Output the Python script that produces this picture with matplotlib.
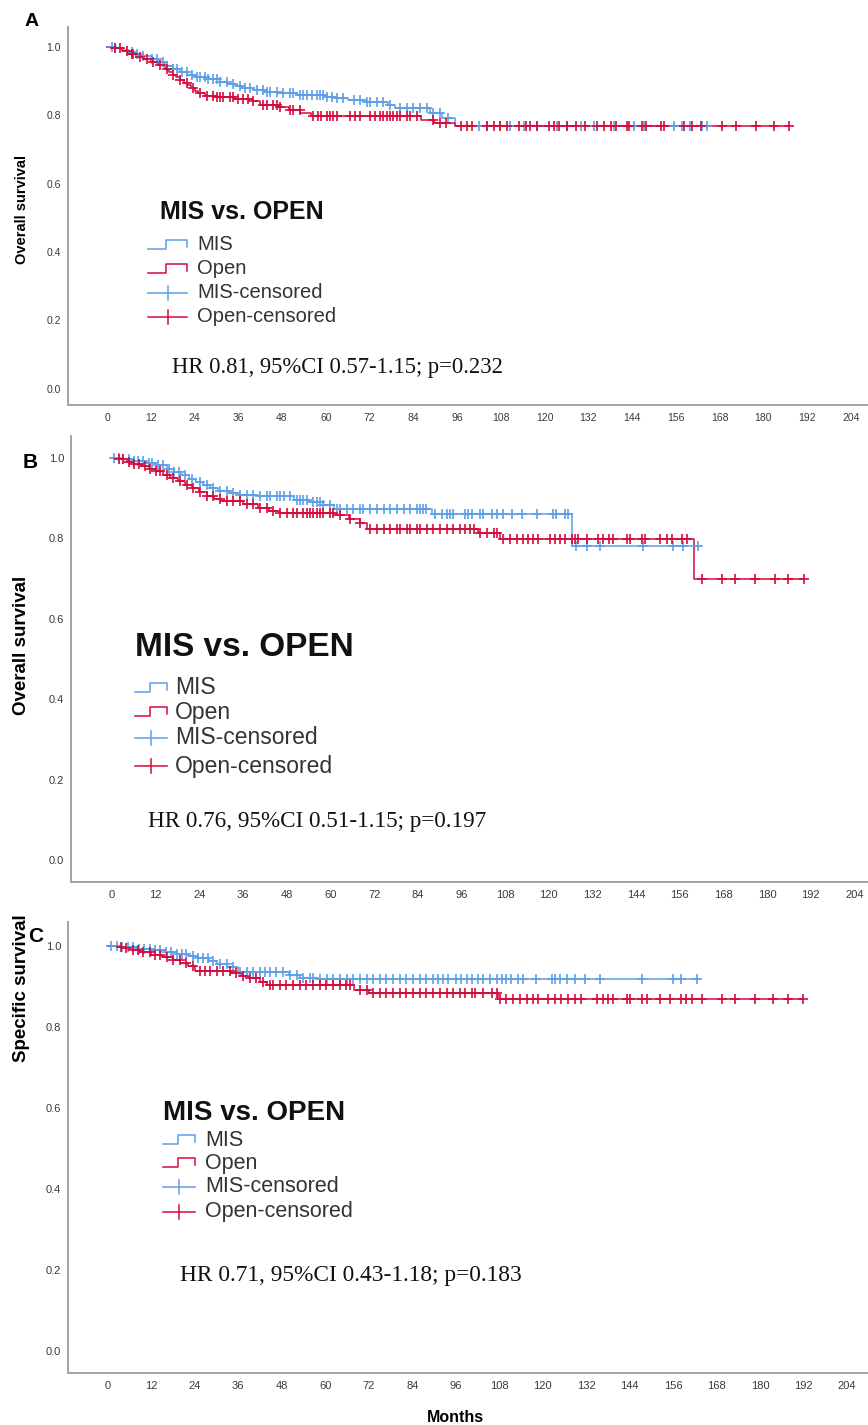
import numpy as np
import matplotlib
matplotlib.use("Agg")
import matplotlib.pyplot as plt
from matplotlib.lines import Line2D

W, H = 868, 1425

# ---------------- DATA ----------------
MONTH_TICKS = list(range(0, 205, 12))
SURV_TICKS = [0.0, 0.2, 0.4, 0.6, 0.8, 1.0]
GROUPS = ["MIS", "Open"]
LEGEND_TITLE = "MIS vs. OPEN"
LEGEND_LABELS = ["MIS", "Open", "MIS-censored", "Open-censored"]

# Panel A - overall survival
A_MIS_T = [0, 2, 4, 6, 8, 10, 12, 14, 16, 18, 20, 22, 24, 27, 31, 33, 35, 37, 40, 43, 47, 52, 60, 63, 66, 71, 77, 79, 88.7, 92, 95.5]
A_MIS_S = [1.0, 0.995, 0.99, 0.985, 0.978, 0.972, 0.965, 0.956, 0.945, 0.935, 0.927, 0.918, 0.91, 0.905, 0.898, 0.892, 0.885, 0.879, 0.874, 0.869, 0.864, 0.859, 0.854, 0.849, 0.844, 0.839, 0.829, 0.82, 0.805, 0.791, 0.768]
A_MIS_C = [1.3, 2.2, 6.8, 8.1, 10, 12.3, 13.6, 15.4, 16.4, 18.2, 19.1, 20.5, 21.9, 23.2, 24.6, 25.5, 26.9, 27.8, 29.2, 30.1, 31, 32.8,
           34.6, 36.5, 37.8, 39.2, 41.1, 42.9, 43.8, 44.7, 46.5, 48.4, 50.2, 51.1, 52.9, 53.8, 54.8, 56.1, 57.5, 58.4, 59.3, 60.3,
           61.6, 63, 64.8, 67.6, 69.4, 71.2, 72.1, 74, 75.8, 77.6, 80.4, 82.2, 84, 85.8, 87.7, 89.5, 91.3, 93.6,
           102, 104.2, 107.9, 110.6, 114.3, 118, 123.5, 126.2, 129.9, 133.5, 139, 144.5, 147.2, 155.5, 157.8, 160, 163.3, 164.6]
A_OPEN_T = [0, 2, 4, 6, 8, 10, 12, 14, 16, 17, 18, 19, 20, 21, 22, 23, 24, 25, 27, 30, 35, 40, 42, 47, 50, 53, 56, 86, 89.6, 95.5]
A_OPEN_S = [1.0, 0.995, 0.988, 0.978, 0.97, 0.963, 0.956, 0.946, 0.934, 0.926, 0.917, 0.91, 0.903, 0.895, 0.888, 0.879, 0.871, 0.864, 0.857, 0.852, 0.846, 0.841, 0.829, 0.823, 0.815, 0.805, 0.796, 0.786, 0.777, 0.768]
A_OPEN_C = [2.2, 3.6, 5.4, 6.8, 7.2, 9.1, 10.9, 12.7, 14.5, 16.4, 18.2, 20, 21.9, 23.7, 25.5, 27.3, 29.2, 30.1, 31, 31.9, 33.7,
            34.6, 36, 37.4, 38.8, 40.1, 42.9, 43.8, 45.6, 46.5, 47.4, 50.2, 51.1, 52.9, 56.6, 57.9, 58.8, 60.3, 61.2, 62.1, 63,
            66.6, 68, 69.4, 72.1, 73.5, 74.9, 75.8, 76.7, 77.6, 78.5, 79.4, 80.4, 82.2, 83.1, 84.9, 89.5, 91.3, 93.1,
            97, 98.8, 100.1, 104.2, 106.1, 107.9, 109.7, 112.9, 114.8, 116.1, 118, 121.2, 122.5, 123.9, 126.2, 128.5, 131.2,
            134.4, 136.3, 138.1, 139.5, 142.7, 143.1, 146.8, 147.7, 151.8, 152.7, 158.2, 160.5, 162.8, 168.7, 172.4, 177.9,
            182.9, 187]
A_HR = "HR 0.81, 95%CI 0.57-1.15; p=0.232"

# Panel B - overall survival
B_MIS_T = [0, 3, 6, 9, 12, 15, 17, 19, 21, 23, 25, 27, 29, 32, 35, 40, 50, 54, 58, 61, 87.8, 126.4]
B_MIS_S = [1.0, 0.997, 0.993, 0.988, 0.982, 0.973, 0.965, 0.957, 0.948, 0.94, 0.933, 0.925, 0.917, 0.912, 0.908, 0.904, 0.896, 0.89, 0.882, 0.873, 0.861, 0.781]
B_MIS_C = [0.5, 2, 3, 4.5, 6, 7, 8.5, 10, 11, 12.5, 14, 15.5, 17, 18.5, 20, 22,
           24.2, 26, 27.8, 29.7, 31.5, 33.3, 35.2, 37, 38.8, 40.7, 42.5, 43.4, 45.2, 46.2, 47.1, 48.9, 50.7, 51.6, 52.5,
           53.5, 55.3, 56.2, 57.1, 58, 59.9, 61.7, 62.6, 64.5, 66.3, 68.1, 69, 70.9, 72.7, 74.6, 76.4, 78.2, 80.1, 81.9,
           83.7, 84.6, 85.5, 86.2, 88.7, 90.6, 91.9, 92.8, 93.8, 97, 97.9, 98.8, 101.1, 102, 104.3, 105.7, 107.5, 109.8,
           112.5, 116.7, 121.2, 122.1, 124.4, 125.4, 127.6, 130.4, 134.1, 146, 154.2, 157, 161.1]
B_OPEN_T = [0, 2, 4, 6, 8, 10, 12, 14, 16, 18, 20, 22, 24, 26, 28, 30, 36, 40, 43, 46, 61, 65, 68, 70, 100.4, 106.5, 160]
B_OPEN_S = [1.0, 0.996, 0.99, 0.985, 0.979, 0.973, 0.966, 0.958, 0.95, 0.942, 0.933, 0.924, 0.915, 0.905, 0.898, 0.892, 0.884, 0.876, 0.868, 0.862, 0.857, 0.849, 0.838, 0.823, 0.812, 0.797, 0.698]
B_OPEN_C = [2, 3, 4.5, 6, 7.5, 9, 10.5, 12, 13.2, 15, 16.8, 18.7, 20.5, 22.3, 24.2, 26, 27.8, 29.7, 31.5, 33.3, 35.2, 37,
            38.8, 40.7, 42.5, 44.3, 46.2, 48, 49.8, 50.7, 52.5, 53.5, 54.4, 55.3, 56.2, 57.1, 58, 59.9, 60.8, 62.6, 65.4,
            68.1, 70.9, 72.7, 74.6, 76.4, 78.2, 79.1, 80.9, 81.9, 83.7, 84.6, 86.4, 88.3, 90.1, 92, 93.8, 95.6, 97, 98.3,
            99.3, 101.1, 102.9, 104.8, 105.7, 107.5, 109.3, 111.2, 113, 114.4, 115.7, 117.1, 120.3, 121.7, 123.1, 124.4,
            126.3, 127.2, 128.1, 130.4, 133.6, 135, 136.4, 137.7, 141.4, 142.3, 145.5, 146.4, 150.5, 152.4, 153.8, 156.5,
            157.9, 162, 167.5, 171.2, 176.7, 182.1, 185.8, 190]
B_HR = "HR 0.76, 95%CI 0.51-1.15; p=0.197"

# Panel C - specific survival
C_MIS_T = [0, 4, 8, 12, 16, 19, 22, 25, 28, 30, 33, 36, 50, 53, 58]
C_MIS_S = [1.0, 0.997, 0.993, 0.989, 0.985, 0.981, 0.976, 0.969, 0.962, 0.955, 0.948, 0.935, 0.928, 0.922, 0.918]
C_MIS_C = [1, 2.5, 4, 5.5, 7, 8.5, 10, 11.5, 13, 14.5, 16, 17.5, 19, 20.5, 21.7, 23.6, 25, 26.3, 27.7, 29.1, 30.9, 32.8,
           34.6, 36.4, 38.3, 40.1, 41.9, 43.3, 44.7, 46.5, 48.4, 50.2, 52.1, 53.9, 55.8, 56.7, 58.5, 60.4, 62.2, 64, 65.9,
           67.7, 69.6, 71.4, 73.2, 75.1, 76.9, 78.7, 80.6, 82.4, 84.3, 86.1, 87.9, 89.8, 91.2, 92.5, 93.9, 96.2, 97.6, 99,
           100.4, 102.2, 103.6, 105.4, 107.3, 108.7, 110, 111.4, 113.3, 114.6, 118.3, 122.5, 123.4, 124.8, 126.6, 128.9,
           131.7, 135.8, 147.3, 156, 158.3, 162.5]
C_OPEN_T = [0, 3, 5, 7, 9, 12, 15, 18, 20, 22, 24, 34, 37, 39, 42, 44, 68, 72, 107.6]
C_OPEN_S = [1.0, 0.997, 0.994, 0.99, 0.985, 0.978, 0.972, 0.965, 0.958, 0.95, 0.938, 0.933, 0.926, 0.92, 0.91, 0.904, 0.891, 0.884, 0.868]
C_OPEN_C = [3.5, 5, 7, 8.4, 9.8, 11.6, 13, 14.4, 16.2, 18, 19.9, 21.7, 23.6, 25.4, 26.8, 28.2, 30, 31.8, 33.7, 35.5, 37.4,
            39.2, 41, 42.9, 44.7, 45.6, 47.5, 49.3, 51.1, 53, 54.8, 56.6, 58.5, 60.3, 62.2, 64, 65.8, 66.8, 69.6, 71.4, 73.2,
            75.1, 76.9, 78.7, 80.6, 82.4, 84.3, 86.1, 87.9, 89.8, 91.6, 93.5, 95.3, 97.2, 98.5, 100.4, 101.3, 103.6, 105.9,
            107.3, 108.2, 110, 111.9, 113.7, 115.6, 117.4, 118.8, 121.5, 123.4, 125.2, 127.1, 128.9, 130.7, 134.9, 136.7,
            138.1, 139.5, 143.2, 144.1, 147.3, 148.7, 152.4, 155.1, 158.3, 159.7, 161.1, 163.9, 169.4, 173.1, 178.6, 183.6,
            187.8, 191.9]
C_HR = "HR 0.71, 95%CI 0.43-1.18; p=0.183"

# ---------------- STYLE ----------------
BLUE = "#5c9fe8"
RED = "#d40a3c"
SPINE = "#a3a3a3"
TICKC = "#3a3a3a"
SANS = ["Liberation Sans", "DejaVu Sans"]
NARROW = ["Liberation Sans Narrow", "Liberation Sans", "DejaVu Sans"]
SERIF = ["Liberation Serif", "DejaVu Serif"]

fig = plt.figure(figsize=(W / 100, H / 100), dpi=100)


def fx(px):
    return px / W


def fy(py):
    return 1 - py / H


def km_line(ax, t, s, cens, color):
    t = list(t)
    s = list(s)
    end = max(max(cens), t[-1])
    tt = t + [end]
    ss = s + [s[-1]]
    ax.step(tt, ss, where="post", color=color, lw=1.1, zorder=3)
    idx = np.searchsorted(np.array(t), np.array(cens), side="right") - 1
    cy = np.array(s)[idx]
    ax.plot(cens, cy, linestyle="none", marker="+", ms=7.5, mew=1.2, color=color, zorder=4)


def panel(box, xlim, ylim, mis, opn, letter, letter_xy, letter_fs, ylabel, ylabel_xy, ylabel_fs,
          icon_x, title_x, title_y, title_fs, rows_y, row_fs, text_x, icon_w, hr, hr_xy, hr_fs, tick_fs, tick_family):
    left, top, right, bottom = box
    ax = fig.add_axes([fx(left), fy(bottom), (right - left) / W, (bottom - top) / H])
    km_line(ax, *mis, BLUE)
    km_line(ax, *opn, RED)
    ax.set_xlim(*xlim)
    ax.set_ylim(*ylim)
    ax.set_xticks(MONTH_TICKS)
    ax.set_yticks(SURV_TICKS)
    ax.set_yticklabels([f"{v:.1f}" for v in SURV_TICKS], family=SANS, fontsize=tick_fs, color=TICKC)
    ax.set_xticklabels([str(v) for v in MONTH_TICKS], family=tick_family, fontsize=tick_fs, color=TICKC)
    ax.tick_params(length=0, pad=5)
    ax.tick_params(axis="x", pad=6)
    for sp in ["top", "right"]:
        ax.spines[sp].set_visible(False)
    for sp in ["left", "bottom"]:
        ax.spines[sp].set_color(SPINE)
        ax.spines[sp].set_linewidth(1.4)
    ax.patch.set_alpha(0)

    fig.text(fx(letter_xy[0]), fy(letter_xy[1]), letter, fontsize=letter_fs, fontweight="bold",
             family=SANS, ha="center", va="center")
    fig.text(fx(ylabel_xy[0]), fy(ylabel_xy[1]), ylabel, fontsize=ylabel_fs, fontweight="bold",
             family=SANS, rotation=90, ha="center", va="center")
    # legend
    fig.text(fx(title_x), fy(title_y), LEGEND_TITLE, fontsize=title_fs, fontweight="bold",
             family=SANS, ha="left", va="center", color="#111111")
    colors = [BLUE, RED, BLUE, RED]
    for i, (lab, c, ry) in enumerate(zip(LEGEND_LABELS, colors, rows_y)):
        x0, x1 = icon_x, icon_x + icon_w
        if i < 2:
            xm = x0 + icon_w * 0.47
            xs = [x0, xm, xm, x1, x1]
            ys = [ry + 4, ry + 4, ry - 5, ry - 5, ry + 2]
        else:
            xs = [x0, x1]
            ys = [ry, ry]
            xm = x0 + icon_w * 0.5
            fig.add_artist(Line2D([fx(xm), fx(xm)], [fy(ry - 7), fy(ry + 7)], color=c, lw=1.1))
        fig.add_artist(Line2D([fx(v) for v in xs], [fy(v) for v in ys], color=c, lw=1.1))
        fig.text(fx(text_x), fy(ry), lab, fontsize=row_fs, family=SANS, ha="left", va="center", color="#333333")
    fig.text(fx(hr_xy[0]), fy(hr_xy[1]), hr, fontsize=hr_fs, family=SERIF, ha="left", va="center", color="#111111")
    return ax


panel((68, 27, 868, 405), (-10.7, 208.7), (-0.047, 1.0575),
      (A_MIS_T, A_MIS_S, A_MIS_C), (A_OPEN_T, A_OPEN_S, A_OPEN_C),
      "A", (32, 22), 14, "Overall survival", (22, 210), 10.5,
      148, 160, 212, 18, [245, 269, 293, 317], 14.5, 197, 39,
      A_HR, (172, 367), 16.3, 7.5, NARROW)

panel((71, 436, 868, 882), (-11.3, 207.7), (-0.054, 1.054),
      (B_MIS_T, B_MIS_S, B_MIS_C), (B_OPEN_T, B_OPEN_S, B_OPEN_C),
      "B", (30, 462), 15, "Overall survival", (22, 645), 13.5,
      135, 135, 648, 24, [688, 712, 738, 766], 16.5, 175, 32,
      B_HR, (148, 822), 16.7, 8, SANS)

panel((68, 922, 868, 1373), (-11, 209.8), (-0.054, 1.059),
      (C_MIS_T, C_MIS_S, C_MIS_C), (C_OPEN_T, C_OPEN_S, C_OPEN_C),
      "C", (36, 936), 15, "Specific survival", (22, 988), 13.5,
      163, 163, 1113, 20, [1140, 1163, 1187, 1212], 15.5, 205, 32,
      C_HR, (180, 1276), 16.8, 8, NARROW)

fig.text(fx(455), fy(1417), "Months", fontsize=11.5, fontweight="bold", family=NARROW, ha="center", va="center")

fig.savefig("out.png", dpi=100)
